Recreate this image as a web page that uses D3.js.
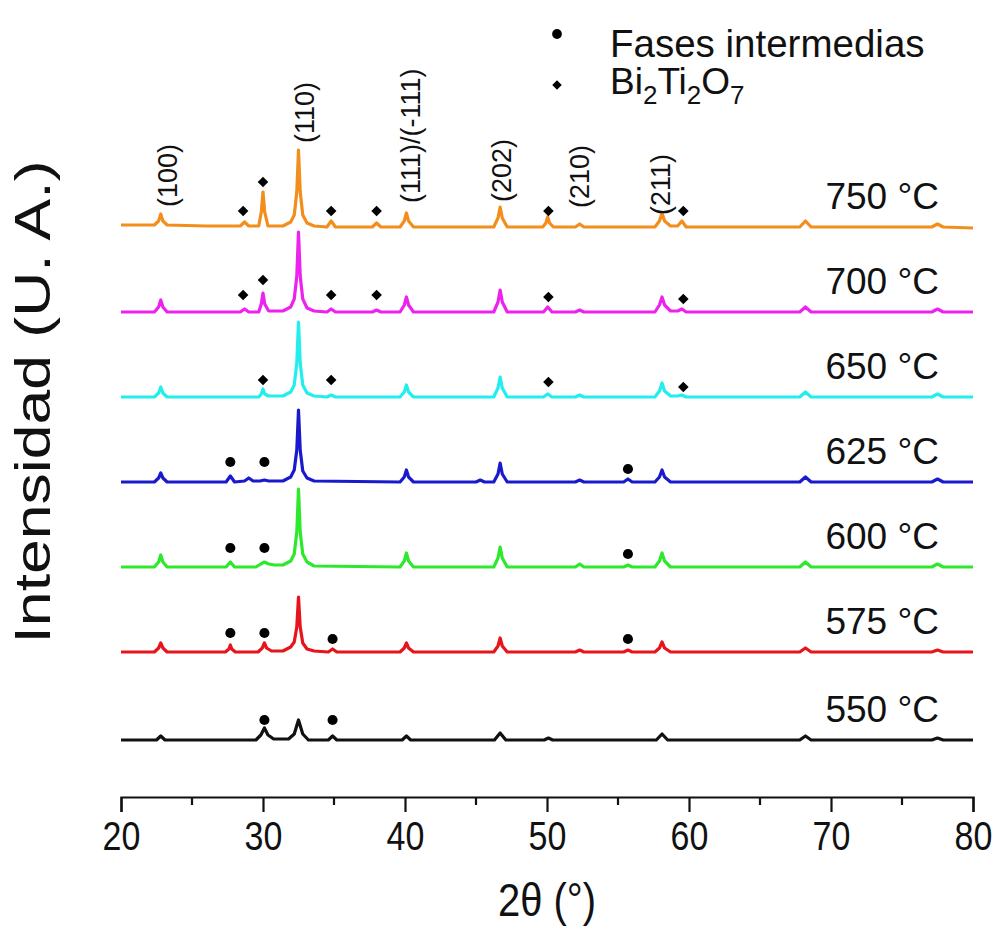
<!DOCTYPE html>
<html>
<head>
<meta charset="utf-8">
<script src="https://cdn.jsdelivr.net/npm/d3@7"></script>
<style>
  body { margin: 0; background: #fff; }
  svg { display: block; }
  text { font-family: "Liberation Sans", Arial, sans-serif; fill: #111; }
</style>
</head>
<body>
<svg id="chart" width="996" height="933"></svg>
<script>
// XRD patterns of the calcined powders, stacked by calcination temperature.
const samples = ["550 °C", "575 °C", "600 °C", "625 °C", "650 °C", "700 °C", "750 °C"];
const sampleColors = ["#111111", "#e8141c", "#2ee82e", "#1a1acc", "#22eeee", "#ee22ee", "#f28e1c"];
// vertical stacking offset of each pattern (intensity units)
const offsets = [0, 88, 173, 258, 343, 428, 513];

// [2θ, intensity] vertices of each pattern
const pattern550 = [[20,0],[22.5,0],[22.8,4],[23.1,0],
  [29.5,0],[29.85,5],[30.1,12],[30.35,5],[30.75,1],
  [31.8,1],[32.2,6],[32.5,20],[32.8,6],[33.2,0],
  [34.6,0],[34.9,4],[35.2,0],[39.8,0],[40.1,4],[40.4,0],
  [46.3,0],[46.7,7],[47.1,0],[49.8,0],[50.1,2],[50.4,0],
  [57.7,0],[58.1,6],[58.5,0],[67.8,0],[68.2,4],[68.6,0],
  [77.1,0],[77.5,2],[77.9,0],[80,0]];
const pattern575 = [[20,0],[22.35,0],[22.65,4],[22.8,9],[22.95,4],[23.25,0],
  [27.35,0],[27.6,3],[27.7,7],[27.8,3],[28.05,0],
  [29.65,0],[29.95,4],[30.1,9],[30.25,4],[30.6,1],
  [31.4,1],[31.95,5],[32.2,10],[32.38,25],[32.5,55],[32.62,25],[32.8,9],[33.1,3],[33.6,1],
  [34.6,0],[34.9,3],[35.2,0],
  [39.65,0],[39.95,4],[40.1,9],[40.25,4],[40.6,0],
  [46.25,0],[46.55,6],[46.7,14],[46.85,6],[47.2,0],
  [52.0,0],[52.3,2],[52.6,0],[55.4,0],[55.7,2],[56.0,0],
  [57.6,0],[57.92,4],[58.1,10],[58.28,4],[58.7,0],
  [67.8,0],[68.2,4],[68.6,0],[77.1,0],[77.5,2],[77.9,0],[80,0]];
const pattern600 = [[20,0],[22.35,0],[22.65,5],[22.8,12],[22.95,5],[23.25,0],
  [27.4,0],[27.7,5],[28.0,0],
  [29.5,0],[29.85,3],[30.1,5],[30.4,3],[30.8,2],
  [31.4,2],[31.95,6],[32.2,13],[32.38,35],[32.5,78],[32.62,35],[32.8,13],[33.1,5],[33.6,1],
  [39.65,0],[39.95,6],[40.1,14],[40.25,6],[40.6,0],
  [46.25,0],[46.55,9],[46.7,20],[46.85,9],[47.2,0],
  [52.0,0],[52.3,3],[52.6,0],[55.4,0],[55.7,2],[56.0,0],
  [57.6,0],[57.92,6],[58.1,14],[58.28,6],[58.7,0],
  [67.8,0],[68.2,5],[68.6,0],[77.1,0],[77.5,3],[77.9,0],[80,0]];
const pattern625 = [[20,0],[22.35,0],[22.65,4],[22.8,9],[22.95,4],[23.25,0],
  [27.4,0],[27.7,6],[28.0,0],[28.7,1],[29.0,4],[29.3,1],[29.8,1],[30.1,2],[30.4,1],
  [31.4,1],[31.95,5],[32.2,12],[32.38,32],[32.5,72],[32.62,32],[32.8,11],[33.1,4],[33.6,1],
  [39.65,0],[39.95,5],[40.1,12],[40.25,5],[40.6,0],
  [45.0,0],[45.3,2],[45.6,0],
  [46.25,0],[46.55,8],[46.7,19],[46.85,8],[47.2,0],
  [52.0,0],[52.3,2],[52.6,0],[55.4,0],[55.7,3],[56.0,0],
  [57.6,0],[57.92,5],[58.1,12],[58.28,5],[58.7,0],
  [67.8,0],[68.2,5],[68.6,0],[77.1,0],[77.5,3],[77.9,0],[80,0]];
const pattern650 = [[20,0],[22.35,0],[22.65,4],[22.8,10],[22.95,4],[23.25,0],
  [29.7,0],[29.88,3],[30.0,8],[30.12,3],[30.4,1],
  [31.4,1],[31.95,5],[32.2,12],[32.38,34],[32.5,75],[32.62,34],[32.8,12],[33.1,4],[33.6,1],
  [34.5,0],[34.8,2],[35.1,0],
  [39.65,0],[39.95,5],[40.1,12],[40.25,5],[40.6,0],
  [46.25,0],[46.55,9],[46.7,20],[46.85,9],[47.2,0],
  [49.75,0],[50.05,3],[50.35,0],[52.0,0],[52.3,2],[52.6,0],
  [57.6,0],[57.92,6],[58.1,14],[58.28,6],[58.7,1],[59.2,1],[59.5,2],[59.8,0],
  [67.8,0],[68.2,5],[68.6,0],[77.1,0],[77.5,3],[77.9,0],[80,0]];
const pattern700 = [[20,0],[22.35,0],[22.65,5],[22.8,12],[22.95,5],[23.25,0],
  [28.4,0],[28.7,3],[29.0,0],
  [29.7,0],[29.88,8],[30.0,19],[30.12,8],[30.4,1],
  [31.4,1],[31.95,5],[32.2,13],[32.38,36],[32.5,80],[32.62,36],[32.8,13],[33.1,4],[33.6,1],
  [34.5,0],[34.8,3],[35.1,0],[37.7,0],[38.0,2],[38.3,0],
  [39.65,0],[39.95,7],[40.1,15],[40.25,7],[40.6,0],
  [46.25,0],[46.55,10],[46.7,22],[46.85,10],[47.2,0],
  [49.75,0],[50.05,5],[50.35,0],[52.0,0],[52.3,2],[52.6,0],
  [57.6,0],[57.92,7],[58.1,15],[58.28,7],[58.7,1],[59.2,1],[59.5,3],[59.8,0],
  [67.8,0],[68.2,5],[68.6,0],[77.1,0],[77.5,3],[77.9,0],[80,0]];
const pattern750 = [[20,2],[22.35,2],[22.65,6],[22.8,13],[22.95,6],[23.25,2],
  [26,1],[28.4,1],[28.7,5],[29.0,1],
  [29.7,1],[29.88,15],[30.0,35],[30.12,15],[30.35,1],
  [31.4,1],[31.95,5],[32.2,12],[32.38,35],[32.5,77],[32.62,35],[32.8,12],[33.1,4],[33.6,1],
  [34.5,0],[34.8,6],[35.1,0],[37.7,0],[38.0,4],[38.3,0],
  [39.65,0],[39.95,6],[40.1,14],[40.25,6],[40.6,0],
  [46.25,0],[46.55,9],[46.7,20],[46.85,9],[47.2,0],
  [49.7,0],[49.92,4],[50.05,10],[50.18,4],[50.45,0],
  [52.0,0],[52.3,3],[52.6,0],
  [57.6,0],[57.92,6],[58.1,14],[58.28,6],[58.7,1],[59.2,1],[59.5,6],[59.8,0],
  [67.8,0],[68.2,6],[68.6,0],[77.1,0],[77.5,3],[77.9,0],[80,-1]];
const patterns = [pattern550, pattern575, pattern600, pattern625, pattern650, pattern700, pattern750];

// phase markers: [sample index, 2θ, height above the pattern baseline]
const intermediateMarks = [[3,27.7,20],[3,30.1,20],[3,55.7,13],
  [2,27.7,19],[2,30.1,19],[2,55.7,13],
  [1,27.7,19],[1,30.1,19],[1,34.9,13],[1,55.7,13],
  [0,30.1,20],[0,34.9,20]];
const pyrochloreMarks = [[6,28.6,16],[6,30.0,45],[6,34.8,16],[6,38.0,16],[6,50.1,16],[6,59.6,16],
  [5,28.6,17],[5,30.0,32],[5,34.8,17],[5,38.0,17],[5,50.1,15],[5,59.6,13],
  [4,30.0,17],[4,34.8,17],[4,50.1,15],[4,59.6,10]];

// Miller indices of the main reflections, written above the 750 °C pattern
const millerLabels = ["(100)", "(110)", "(111)/(-111)", "(202)", "(210)", "(211)"];
const millerTheta = [23.3, 32.9, 40.4, 46.8, 52.3, 58.0];
const millerLevel = [533, 597, 537, 538, 532, 525];

const xTicks = [20, 30, 40, 50, 60, 70, 80];
const xMinorTicks = [25, 35, 45, 55, 65, 75];

const svg = d3.select("#chart");
const x = d3.scaleLinear().domain([20, 80]).range([121, 973]);
const y = d3.scaleLinear().domain([-57, 680]).range([797, 60]);

// patterns
const line = d3.line().x(d => x(d[0]));
patterns.forEach((pts, i) => {
  svg.append("path")
    .datum(pts)
    .attr("fill", "none")
    .attr("stroke", sampleColors[i])
    .attr("stroke-width", 3.2)
    .attr("stroke-linejoin", "round")
    .attr("d", line.y(d => y(d[1] + offsets[i])));
});

// temperature labels
svg.append("g").selectAll("text").data(samples).join("text")
  .attr("x", 939)
  .attr("y", (d, i) => y(offsets[i] + 18))
  .attr("text-anchor", "end")
  .attr("font-size", 37)
  .text(d => d);

// phase markers
const circleSym = d3.symbol().type(d3.symbolCircle).size(80);
const squareSym = d3.symbol().type(d3.symbolSquare).size(56);
svg.append("g").selectAll("path").data(intermediateMarks).join("path")
  .attr("d", circleSym)
  .attr("fill", "#000")
  .attr("transform", d => `translate(${x(d[1])},${y(offsets[d[0]] + d[2])})`);
svg.append("g").selectAll("path").data(pyrochloreMarks).join("path")
  .attr("d", squareSym)
  .attr("fill", "#000")
  .attr("transform", d => `translate(${x(d[1])},${y(offsets[d[0]] + d[2])}) rotate(45)`);

// Miller index labels
svg.append("g").selectAll("text").data(millerLabels).join("text")
  .attr("transform", (d, i) => `translate(${x(millerTheta[i])},${y(millerLevel[i])}) rotate(-90)`)
  .attr("dy", "0.35em")
  .attr("font-size", 27)
  .text(d => d);

// x axis
const xAxis = svg.append("g").attr("transform", "translate(0,797)");
xAxis.call(d3.axisBottom(x).tickValues(xTicks).tickSize(15).tickPadding(10).tickFormat(d3.format("d")));
xAxis.select(".domain").attr("stroke", "#111").attr("stroke-width", 2.2);
xAxis.selectAll(".tick line").attr("stroke", "#111").attr("stroke-width", 2.2);
xAxis.selectAll(".tick text")
  .attr("font-family", "Liberation Sans, Arial, sans-serif")
  .attr("font-size", 40)
  .attr("fill", "#111")
  .attr("dy", "0.71em")
  .attr("transform", "scale(0.85,1)");
xAxis.selectAll(".minor").data(xMinorTicks).join("line")
  .attr("class", "minor")
  .attr("x1", d => x(d)).attr("x2", d => x(d))
  .attr("y1", 0).attr("y2", 8)
  .attr("stroke", "#111").attr("stroke-width", 2.2);

// axis titles
svg.append("text")
  .attr("transform", "translate(547,916) scale(0.85,1)")
  .attr("text-anchor", "middle")
  .attr("font-size", 47)
  .text("2θ (°)");
svg.append("text")
  .attr("transform", "translate(50,402) rotate(-90)")
  .attr("text-anchor", "middle")
  .attr("font-size", 50)
  .attr("textLength", 483)
  .attr("lengthAdjust", "spacingAndGlyphs")
  .text("Intensidad (U. A.)");

// legend
const legend = svg.append("g");
legend.append("path").attr("d", d3.symbol().type(d3.symbolCircle).size(75)())
  .attr("transform", "translate(557,34)").attr("fill", "#000");
legend.append("text").attr("x", 610).attr("y", 57).attr("font-size", 38.5).text("Fases intermedias");
legend.append("path").attr("d", d3.symbol().type(d3.symbolSquare).size(45)())
  .attr("transform", "translate(557,85) rotate(45)").attr("fill", "#000");
const formula = legend.append("text").attr("x", 610).attr("y", 94).attr("font-size", 37);
[["Bi", 0], ["2", 1], ["Ti", 0], ["2", 1], ["O", 0], ["7", 1]].forEach(([t, sub], k, arr) => {
  const prevSub = k > 0 ? arr[k - 1][1] : 0;
  formula.append("tspan")
    .attr("dy", sub === prevSub ? 0 : (sub ? 10 : -10))
    .attr("font-size", sub ? 26 : 37)
    .text(t);
});
</script>
</body>
</html>
